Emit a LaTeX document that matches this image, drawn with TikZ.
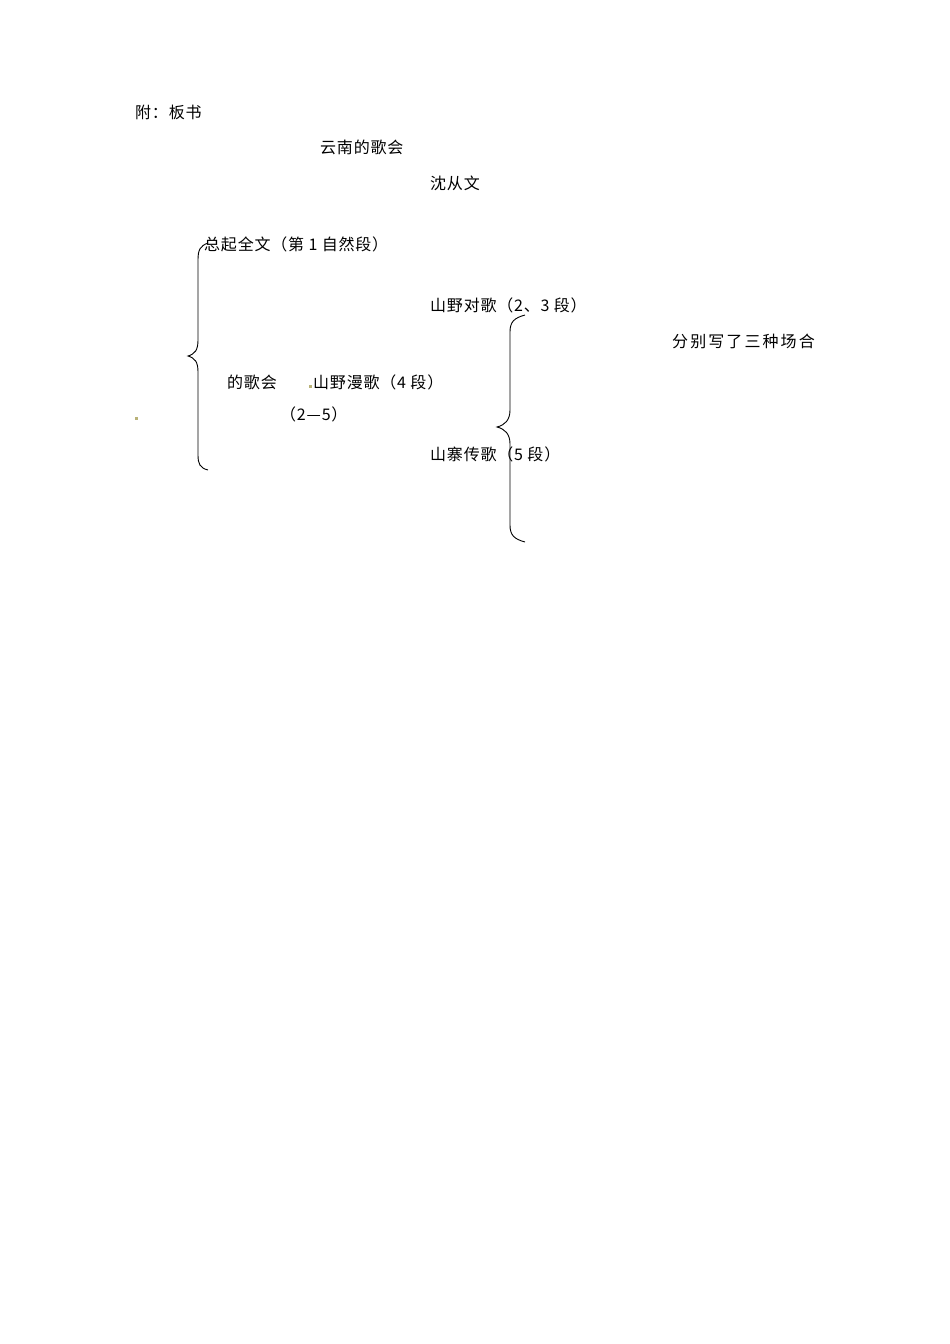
\documentclass[tikz,border=0pt]{standalone}
\usepackage{fontspec}
\setmainfont{Noto Sans CJK SC}[LetterSpace=5]
\newfontfamily\widefont{Noto Sans CJK SC}[LetterSpace=13]
\usetikzlibrary{positioning}
\definecolor{dotolive}{RGB}{185,178,120}

\begin{document}
\begin{tikzpicture}
      [x=1pt,y=-1pt,every node/.style={anchor=west,inner sep=0pt,font=\fontsize{16}{18}\selectfont}]
      \useasboundingbox (0,0) rectangle (950,1344);
      % heading
      \node (fu)    at (135,112) {附：板书};
      \node (title) at (320,147) {云南的歌会};
      \node (auth)  at (430,183) {沈从文};
      % first level
      \node (zq)    at (204,244) {总起全文（第 1 自然段）};
      \node (gh)    at (227,382) {的歌会};
      \node (dd)    at (280,414) {（2—5）};
      % second level
      \node (dg)    at (430,305) {山野对歌（2、3 段）};
      \node (mg)    at (313,382) {山野漫歌（4 段）};
      \node (cg)    at (430,454) {山寨传歌（5 段）};
      \node (fb)    at (672,341) {\widefont 分别写了三种场合};

      % braces
      \draw[line width=0.9pt] (208,243) .. controls (200,246) and (198,250) .. (198,260)
        -- (198,340) .. controls (198,350) and (195,354) .. (188,356)
        .. controls (195,358) and (198,362) .. (198,372)
        -- (198,455) .. controls (198,464) and (200,468) .. (208,470);
      \draw[line width=0.9pt] (525,315) .. controls (514,318) and (510,322) .. (510,332)
        -- (510,410) .. controls (510,420) and (505,425) .. (497,427)
        .. controls (505,429) and (510,434) .. (510,444)
        -- (510,525) .. controls (510,535) and (514,539) .. (525,542);

      % stray marks
      \fill[dotolive] (134.5,416.5) rectangle +(3,3);
      \fill[dotolive] (309,385) rectangle +(3,3);
    \end{tikzpicture}
\end{document}
